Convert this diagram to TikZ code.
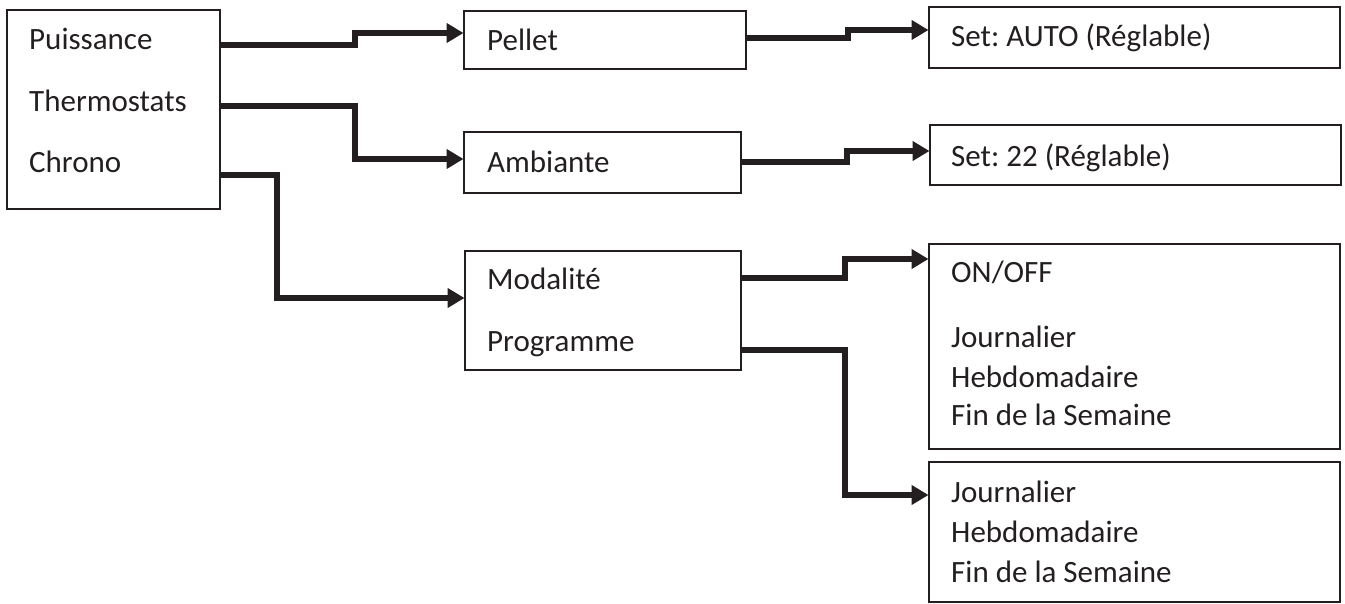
\documentclass[tikz,border=0pt]{standalone}
\usepackage{fontspec}
\setmainfont{Carlito}
\usetikzlibrary{arrows.meta}
\definecolor{ink}{HTML}{231F20}
\frenchspacing
\tikzset{
  box/.style={draw=ink, line width=1.6pt, rectangle, inner sep=0pt, outer sep=0pt, anchor=north west},
  lbl/.style={anchor=base west, inner sep=0pt, text=ink, font=\fontsize{31}{36}\selectfont},
  conn/.style={draw=ink, line width=6pt, -{Triangle[length=17pt,width=19pt]}, shorten >=0.5pt}
}
\begin{document}
\begin{tikzpicture}[x=1pt,y=-1pt]
\useasboundingbox (0,0) rectangle (1345,604);
% boxes
\node[box, minimum width=213pt, minimum height=199pt] (L) at (7,10) {};
\node[box, minimum width=282pt, minimum height=58pt] (P) at (464,11) {};
\node[box, minimum width=277pt, minimum height=61pt] (A) at (464,132) {};
\node[box, minimum width=276pt, minimum height=119pt] (M) at (465,251) {};
\node[box, minimum width=411pt, minimum height=61pt] (S1) at (929,7) {};
\node[box, minimum width=411pt, minimum height=60pt] (S2) at (930,125) {};
\node[box, minimum width=411pt, minimum height=205pt] (B1) at (929,244) {};
\node[box, minimum width=411pt, minimum height=140pt] (B2) at (929,462) {};
% texts
\node[lbl] (t1) at (29,50) {Puissance};
\node[lbl] (t2) at (29,112) {Thermostats};
\node[lbl] (t3) at (29,173) {Chrono};
\node[lbl] (t4) at (487,51) {Pellet};
\node[lbl] (t5) at (487,173) {Ambiante};
\node[lbl] (t6) at (487,290) {Modalité};
\node[lbl] (t7) at (487,352) {Programme};
\node[lbl] (t8) at (951,47) {Set: AUTO (Réglable)};
\node[lbl] (t9) at (951,167) {Set: 22 (Réglable)};
\node[lbl] (t10) at (951,283) {ON/OFF};
\node[lbl] (t11) at (951,347) {Journalier};
\node[lbl] (t12) at (951,387) {Hebdomadaire};
\node[lbl] (t13) at (951,425) {Fin de la Semaine};
\node[lbl] (t14) at (951,502) {Journalier};
\node[lbl] (t15) at (951,542) {Hebdomadaire};
\node[lbl] (t16) at (951,582) {Fin de la Semaine};
% connectors
\draw[conn] (L.east |- 0,45) -- (355,45) |- (P.west |- 0,33);
\draw[conn] (L.east |- 0,106) -- (355,106) |- (A.west |- 0,159);
\draw[conn] (L.east |- 0,175) -- (277,175) |- (M.west |- 0,298);
\draw[conn] (P.east |- 0,38) -- (848,38) |- (S1.west |- 0,30);
\draw[conn] (A.east |- 0,162) -- (847,162) |- (S2.west |- 0,151);
\draw[conn] (M.east |- 0,278) -- (845,278) |- (B1.west |- 0,259);
\draw[conn] (M.east |- 0,350) -- (845,350) |- (B2.west |- 0,495);
\end{tikzpicture}
\end{document}
